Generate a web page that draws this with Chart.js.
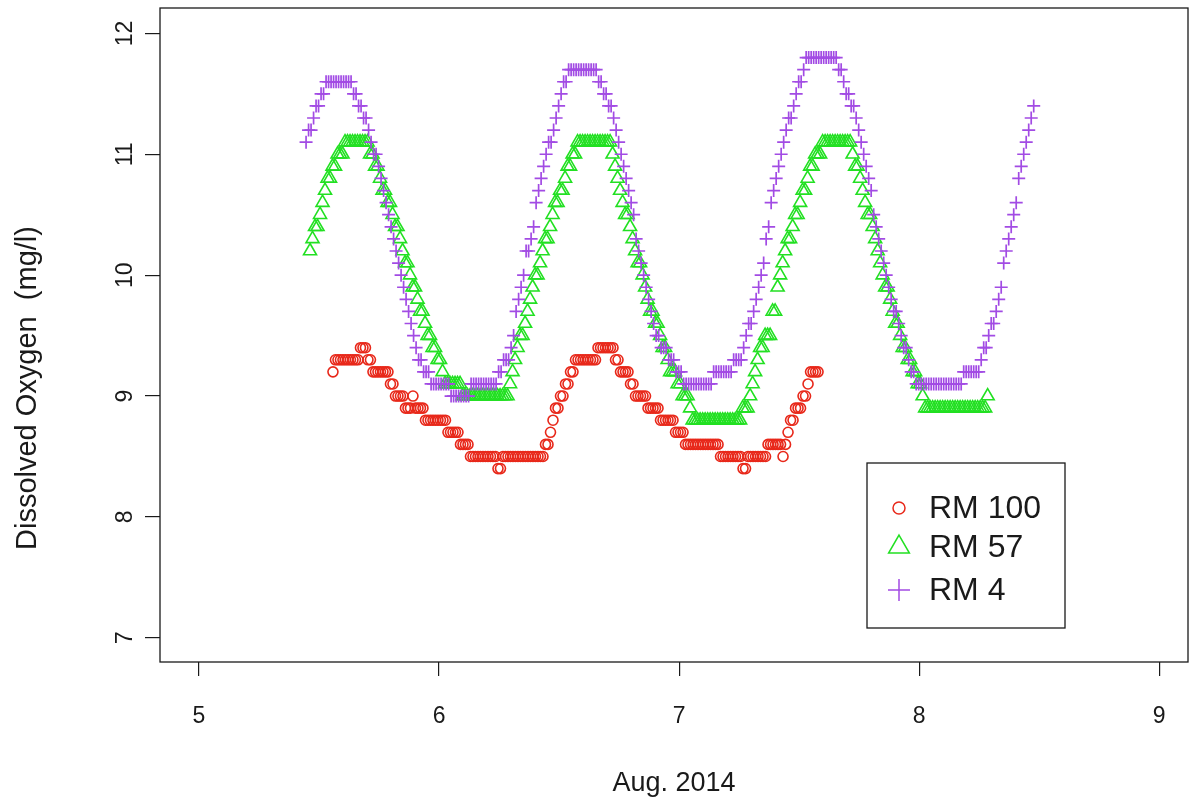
<!DOCTYPE html>
<html>
<head>
<meta charset="utf-8">
<title>Dissolved Oxygen, Aug. 2014</title>
<script src="https://cdn.jsdelivr.net/npm/chart.js@4.4.1/dist/chart.umd.min.js"></script>
<style>
    html, body { margin: 0; padding: 0; background: #fff; }
    #wrap { width: 1190px; height: 800px; }
</style>
</head>
<body>
<div id="wrap"><canvas id="chart" width="1190" height="800"></canvas></div>
<script>
// readings every 15 minutes, x is day of Aug. 2014
const stepDays = 1 / 96;
const xTicks = [5, 6, 7, 8, 9];
const yTicks = [7, 8, 9, 10, 11, 12];
const seriesNames = ['RM 100', 'RM 57', 'RM 4'];

const rm100Start = 5.558;
const rm100 = [
    9.2,
    9.3, 9.3, 9.3, 9.3, 9.3, 9.3, 9.3, 9.3, 9.3, 9.3,
    9.4, 9.4, 9.4, 9.3, 9.3,
    9.2, 9.2, 9.2, 9.2, 9.2, 9.2, 9.2, 9.1, 9.1,
    9.0, 9.0, 9.0, 9.0, 8.9, 8.9, 8.9, 9.0, 8.9, 8.9, 8.9, 8.9,
    8.8, 8.8, 8.8, 8.8, 8.8, 8.8, 8.8, 8.8, 8.8,
    8.7, 8.7, 8.7, 8.7, 8.7, 8.6, 8.6, 8.6, 8.6,
    8.5, 8.5, 8.5, 8.5, 8.5, 8.5, 8.5, 8.5, 8.5, 8.5, 8.5, 8.4, 8.4,
    8.5, 8.5, 8.5, 8.5, 8.5, 8.5, 8.5, 8.5, 8.5, 8.5, 8.5, 8.5, 8.5, 8.5, 8.5, 8.5, 8.5,
    8.6, 8.6, 8.7, 8.8, 8.9, 8.9, 9.0, 9.0, 9.1, 9.1, 9.2, 9.2,
    9.3, 9.3, 9.3, 9.3, 9.3, 9.3, 9.3, 9.3, 9.3,
    9.4, 9.4, 9.4, 9.4, 9.4, 9.4, 9.4,
    9.3, 9.3, 9.2, 9.2, 9.2, 9.2, 9.1, 9.1,
    9.0, 9.0, 9.0, 9.0, 9.0, 8.9, 8.9, 8.9, 8.9, 8.9,
    8.8, 8.8, 8.8, 8.8, 8.8, 8.8, 8.7, 8.7, 8.7, 8.7,
    8.6, 8.6, 8.6, 8.6, 8.6, 8.6, 8.6, 8.6, 8.6, 8.6, 8.6, 8.6, 8.6, 8.6,
    8.5, 8.5, 8.5, 8.5, 8.5, 8.5, 8.5, 8.5, 8.5, 8.4, 8.4,
    8.5, 8.5, 8.5, 8.5, 8.5, 8.5, 8.5, 8.5,
    8.6, 8.6, 8.6, 8.6, 8.6, 8.6,
    8.5, 8.6, 8.7, 8.8, 8.8, 8.9, 8.9, 8.9, 9.0, 9.0, 9.1, 9.2, 9.2, 9.2, 9.2
];

const rm57Start = 5.4625;
const rm57 = [
    10.2, 10.3, 10.4, 10.4, 10.5, 10.6, 10.7, 10.8, 10.8, 10.9, 10.9, 11.0, 11.0, 11.0, 11.1, 11.1,
    11.1, 11.1, 11.1, 11.1, 11.1, 11.1, 11.1,
    11.1, 11.0, 11.0, 10.9, 10.9, 10.8, 10.7, 10.7, 10.6, 10.6, 10.5, 10.4, 10.4, 10.3, 10.2, 10.1,
    10.1, 10.0, 9.9, 9.9, 9.8, 9.7, 9.7, 9.6, 9.5, 9.5, 9.4, 9.4, 9.3, 9.3, 9.2, 9.1,
    9.1, 9.1, 9.1, 9.1, 9.1, 9.1,
    9.0, 9.0, 9.0, 9.0, 9.0, 9.0, 9.0, 9.0, 9.0, 9.0, 9.0, 9.0, 9.0, 9.0, 9.0, 9.0, 9.0, 9.0, 9.0,
    9.1, 9.2, 9.3, 9.4, 9.5, 9.5, 9.6, 9.7, 9.8, 9.9, 10.0, 10.0, 10.1, 10.2, 10.3, 10.3,
    10.4, 10.5, 10.6, 10.6, 10.7, 10.7, 10.8, 10.9, 10.9, 11.0, 11.0, 11.1, 11.1,
    11.1, 11.1, 11.1, 11.1, 11.1, 11.1, 11.1, 11.1, 11.1, 11.1, 11.1, 11.1,
    11.0, 10.9, 10.8, 10.7, 10.6, 10.5, 10.5, 10.4, 10.3, 10.2, 10.1, 10.1, 10.0, 9.9, 9.8, 9.7,
    9.7, 9.6, 9.6, 9.5, 9.4, 9.4, 9.3, 9.2, 9.2, 9.2, 9.1, 9.1, 9.0, 9.0, 9.0, 8.9, 8.8,
    8.8, 8.8, 8.8, 8.8, 8.8, 8.8, 8.8, 8.8, 8.8, 8.8, 8.8, 8.8, 8.8, 8.8, 8.8, 8.8, 8.8, 8.8, 8.8,
    8.9, 8.9, 8.9, 9.0, 9.1, 9.2, 9.3, 9.4, 9.4, 9.5, 9.5, 9.5, 9.7, 9.7, 9.9, 10.0, 10.1,
    10.2, 10.3, 10.3, 10.4, 10.5, 10.5, 10.6, 10.7, 10.7, 10.8, 10.9, 10.9, 11.0, 11.0, 11.0, 11.1,
    11.1, 11.1, 11.1, 11.1, 11.1, 11.1, 11.1, 11.1, 11.1, 11.1, 11.1,
    11.0, 10.9, 10.9, 10.8, 10.7, 10.6, 10.5, 10.5, 10.4, 10.3, 10.2, 10.1, 10.0, 9.9, 9.9,
    9.8, 9.7, 9.6, 9.6, 9.5, 9.4, 9.4, 9.3, 9.3, 9.2, 9.2, 9.1, 9.1, 9.0,
    8.9, 8.9, 8.9, 8.9, 8.9, 8.9, 8.9, 8.9, 8.9, 8.9, 8.9, 8.9, 8.9,
    8.9, 8.9, 8.9, 8.9, 8.9, 8.9, 8.9, 8.9, 8.9, 8.9, 8.9, 8.9,
    9.0
];

const rm4Start = 5.446;
const rm4 = [
    11.1, 11.2, 11.2, 11.3, 11.4, 11.4, 11.5, 11.5, 11.6,
    11.6, 11.6, 11.6, 11.6, 11.6, 11.6, 11.6, 11.6, 11.6, 11.6,
    11.5, 11.5, 11.4, 11.4, 11.3, 11.3, 11.2, 11.1, 11.0, 11.0, 10.9, 10.8, 10.7, 10.6, 10.5, 10.4,
    10.3, 10.2, 10.1, 10.0, 9.9, 9.8, 9.7, 9.6, 9.5, 9.4, 9.3, 9.3, 9.2, 9.2, 9.2,
    9.1, 9.1, 9.1, 9.1, 9.1, 9.1, 9.1, 9.1,
    9.0, 9.0, 9.0, 9.0, 9.0, 9.0, 9.0, 9.0,
    9.1, 9.1, 9.1, 9.1, 9.1, 9.1, 9.1, 9.1, 9.1, 9.1, 9.1,
    9.2, 9.2, 9.3, 9.3, 9.3, 9.4, 9.5, 9.7, 9.8, 9.9, 10.0, 10.2, 10.2, 10.3, 10.4,
    10.6, 10.7, 10.8, 10.9, 11.0, 11.1, 11.1, 11.2, 11.3, 11.4, 11.5, 11.6, 11.6, 11.7,
    11.7, 11.7, 11.7, 11.7, 11.7, 11.7, 11.7, 11.7, 11.7, 11.7, 11.7,
    11.6, 11.6, 11.5, 11.5, 11.4, 11.4, 11.3, 11.2, 11.1, 11.0, 10.9, 10.8, 10.7, 10.6, 10.5, 10.3, 10.2,
    10.1, 10.0, 9.9, 9.8, 9.7, 9.6, 9.5, 9.5, 9.4, 9.4, 9.4, 9.3, 9.3, 9.3, 9.2, 9.2, 9.2,
    9.1, 9.1, 9.1, 9.1, 9.1, 9.1, 9.1, 9.1, 9.1, 9.1, 9.1, 9.1,
    9.2, 9.2, 9.2, 9.2, 9.2, 9.2, 9.2, 9.2,
    9.3, 9.3, 9.3, 9.3,
    9.4, 9.5, 9.6, 9.6, 9.7, 9.8, 9.9, 10.0, 10.1, 10.3, 10.4, 10.6, 10.7,
    10.8, 10.9, 11.0, 11.1, 11.2, 11.3, 11.3, 11.4, 11.5, 11.6, 11.6, 11.7, 11.8,
    11.8, 11.8, 11.8, 11.8, 11.8, 11.8, 11.8, 11.8, 11.8, 11.8, 11.8, 11.8,
    11.7, 11.7, 11.6, 11.5, 11.5, 11.4, 11.4, 11.3, 11.2, 11.1, 11.0, 10.9, 10.8, 10.7, 10.5, 10.4,
    10.3, 10.2, 10.1, 10.0, 9.9, 9.8, 9.7, 9.7, 9.6, 9.5, 9.4, 9.4, 9.3, 9.2, 9.2,
    9.1, 9.1, 9.1, 9.1, 9.1, 9.1, 9.1, 9.1, 9.1, 9.1, 9.1, 9.1, 9.1, 9.1, 9.1, 9.1, 9.1, 9.1, 9.1,
    9.2, 9.2, 9.2, 9.2, 9.2, 9.2, 9.2,
    9.3, 9.4, 9.4, 9.5, 9.6, 9.6, 9.7, 9.8, 9.9, 10.1, 10.2,
    10.3, 10.4, 10.5, 10.6, 10.8, 10.9, 11.0, 11.1, 11.2, 11.3, 11.4
];

const FONT = '"Liberation Sans", Arial, sans-serif';
const INK = '#1a1a1a';
const RED = '#e8281a';
const GREEN = '#22e022';
const PURPLE = '#a24be4';

function toPoints(start, values) {
    return values.map((v, i) => ({ x: start + i * stepDays, y: v }));
}

// box around the plot region, like R's box()
const frame = {
    id: 'frame',
    afterDatasetsDraw(chart) {
        const { ctx, chartArea: a } = chart;
        ctx.save();
        ctx.strokeStyle = INK;
        ctx.lineWidth = 1.3;
        ctx.strokeRect(a.left, a.top, a.right - a.left, a.bottom - a.top);
        ctx.restore();
    }
};

// tick labels and the y title, drawn R style (y labels parallel to the axis)
const axisLabels = {
    id: 'axisLabels',
    afterDraw(chart) {
        const { ctx } = chart;
        const xs = chart.scales.x;
        const ys = chart.scales.y;
        ctx.save();
        ctx.fillStyle = INK;
        ctx.font = '23px ' + FONT;
        ctx.textAlign = 'center';
        ctx.textBaseline = 'middle';
        xTicks.forEach(v => {
            ctx.fillText(String(v), xs.getPixelForValue(v), 717);
        });
        yTicks.forEach(v => {
            ctx.save();
            ctx.translate(126, ys.getPixelForValue(v));
            ctx.rotate(-Math.PI / 2);
            ctx.fillText(String(v), 0, 0);
            ctx.restore();
        });
        ctx.translate(28, 388);
        ctx.rotate(-Math.PI / 2);
        ctx.font = '29px ' + FONT;
        ctx.fillText('Dissolved Oxygen  (mg/l)', 0, 0);
        ctx.restore();
    }
};

function drawSymbol(ctx, style, x, y, r) {
    ctx.beginPath();
    if (style === 'circle') {
        ctx.arc(x, y, r, 0, Math.PI * 2);
    } else if (style === 'triangle') {
        ctx.moveTo(x, y - r);
        ctx.lineTo(x + r * 0.866, y + r * 0.5);
        ctx.lineTo(x - r * 0.866, y + r * 0.5);
        ctx.closePath();
    } else {
        ctx.moveTo(x - r, y);
        ctx.lineTo(x + r, y);
        ctx.moveTo(x, y - r);
        ctx.lineTo(x, y + r);
    }
    ctx.stroke();
}

// boxed legend in the lower right, as in the R plot
const boxLegend = {
    id: 'boxLegend',
    afterDraw(chart) {
        const { ctx } = chart;
        const rowsY = [508, 547, 590];
        const sizes = [6, 12, 11];
        ctx.save();
        ctx.strokeStyle = INK;
        ctx.lineWidth = 1.3;
        ctx.strokeRect(867, 463, 198, 165);
        ctx.font = '32px ' + FONT;
        ctx.textBaseline = 'middle';
        chart.data.datasets.forEach((ds, i) => {
            ctx.strokeStyle = ds.borderColor;
            ctx.lineWidth = 1.5;
            drawSymbol(ctx, ds.pointStyle, 899, rowsY[i], sizes[i]);
            ctx.fillStyle = INK;
            ctx.fillText(ds.label, 929, rowsY[i] + 1);
        });
        ctx.restore();
    }
};

const ctx = document.getElementById('chart').getContext('2d');
new Chart(ctx, {
    type: 'scatter',
    data: {
        datasets: [
            {
                label: seriesNames[0],
                data: toPoints(rm100Start, rm100),
                pointStyle: 'circle',
                pointRadius: 5,
                borderColor: RED,
                backgroundColor: 'rgba(0,0,0,0)',
                borderWidth: 1.6,
                order: 2
            },
            {
                label: seriesNames[1],
                data: toPoints(rm57Start, rm57),
                pointStyle: 'triangle',
                pointRadius: 7.5,
                borderColor: GREEN,
                backgroundColor: 'rgba(0,0,0,0)',
                borderWidth: 1.6,
                order: 1
            },
            {
                label: seriesNames[2],
                data: toPoints(rm4Start, rm4),
                pointStyle: 'cross',
                pointRadius: 6.5,
                borderColor: PURPLE,
                backgroundColor: 'rgba(0,0,0,0)',
                borderWidth: 1.7,
                order: 0
            }
        ]
    },
    options: {
        responsive: false,
        animation: false,
        events: [],
        layout: { autoPadding: false, padding: { left: 0, right: 2, top: 8, bottom: 0 } },
        plugins: {
            legend: { display: false },
            tooltip: { enabled: false }
        },
        scales: {
            x: {
                type: 'linear',
                min: 4.8375,
                max: 9.12,
                afterBuildTicks: s => { s.ticks = xTicks.map(v => ({ value: v })); },
                afterFit: s => { s.height = 138; },
                grid: { drawOnChartArea: false, drawTicks: true, tickLength: 14, color: INK, lineWidth: 1.2 },
                border: { display: false },
                ticks: { display: false },
                title: {
                    display: true,
                    text: 'Aug. 2014',
                    color: INK,
                    font: { family: FONT, size: 27 },
                    padding: { top: 0, bottom: 0 }
                }
            },
            y: {
                type: 'linear',
                min: 6.8,
                max: 12.21,
                afterBuildTicks: s => { s.ticks = yTicks.map(v => ({ value: v })); },
                afterFit: s => { s.width = 160; },
                grid: { drawOnChartArea: false, drawTicks: true, tickLength: 15, color: INK, lineWidth: 1.2 },
                border: { display: false },
                ticks: { display: false }
            }
        }
    },
    plugins: [frame, axisLabels, boxLegend]
});
</script>
</body>
</html>
